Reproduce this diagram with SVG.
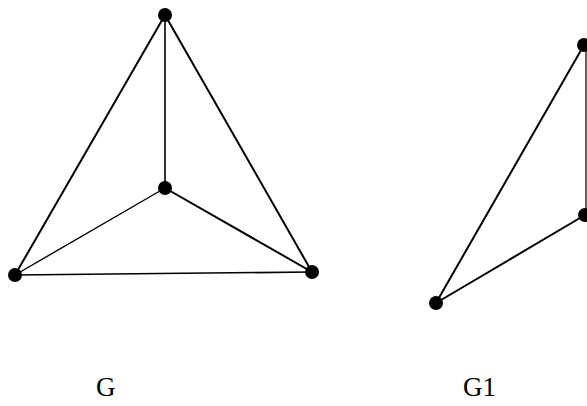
<svg xmlns="http://www.w3.org/2000/svg" width="587" height="406" viewBox="0 0 587 406">
<style>
.edge{stroke:#000;fill:none;stroke-linecap:round}
.node{fill:#000}
.lbl{font-family:"Liberation Serif","Times New Roman",serif;font-size:27px;fill:#000}
</style>
<rect width="587" height="406" fill="#fff"/>
<g id="connectors">
<line class="edge" x1="165" y1="15" x2="15" y2="275" stroke-width="2"/>
<line class="edge" x1="165" y1="15" x2="312" y2="272" stroke-width="2"/>
<line class="edge" x1="165" y1="15" x2="165" y2="188" stroke-width="1.6"/>
<line class="edge" x1="165" y1="188" x2="15" y2="275" stroke-width="1.4"/>
<line class="edge" x1="165" y1="188" x2="312" y2="272" stroke-width="2"/>
<line class="edge" x1="15" y1="275" x2="312" y2="272" stroke-width="1.6"/>
<line class="edge" x1="584" y1="45" x2="436" y2="303" stroke-width="2"/>
<line class="edge" x1="586" y1="45" x2="586" y2="215" stroke-width="1.2"/>
<line class="edge" x1="585" y1="215" x2="436" y2="303" stroke-width="2"/>
</g>
<g id="n1"><circle class="node" cx="165" cy="15" r="7"/></g>
<g id="n2"><circle class="node" cx="165" cy="188" r="7"/></g>
<g id="n3"><circle class="node" cx="15" cy="275" r="7"/></g>
<g id="n4"><circle class="node" cx="312" cy="272" r="7"/></g>
<g id="m1"><circle class="node" cx="584" cy="45" r="7"/></g>
<g id="m2"><circle class="node" cx="585" cy="215" r="7"/></g>
<g id="m3"><circle class="node" cx="436" cy="303" r="7"/></g>
<g id="labelG"><text class="lbl" x="96" y="396">G</text></g>
<g id="labelG1"><text class="lbl" x="463" y="396">G1</text></g>
</svg>
